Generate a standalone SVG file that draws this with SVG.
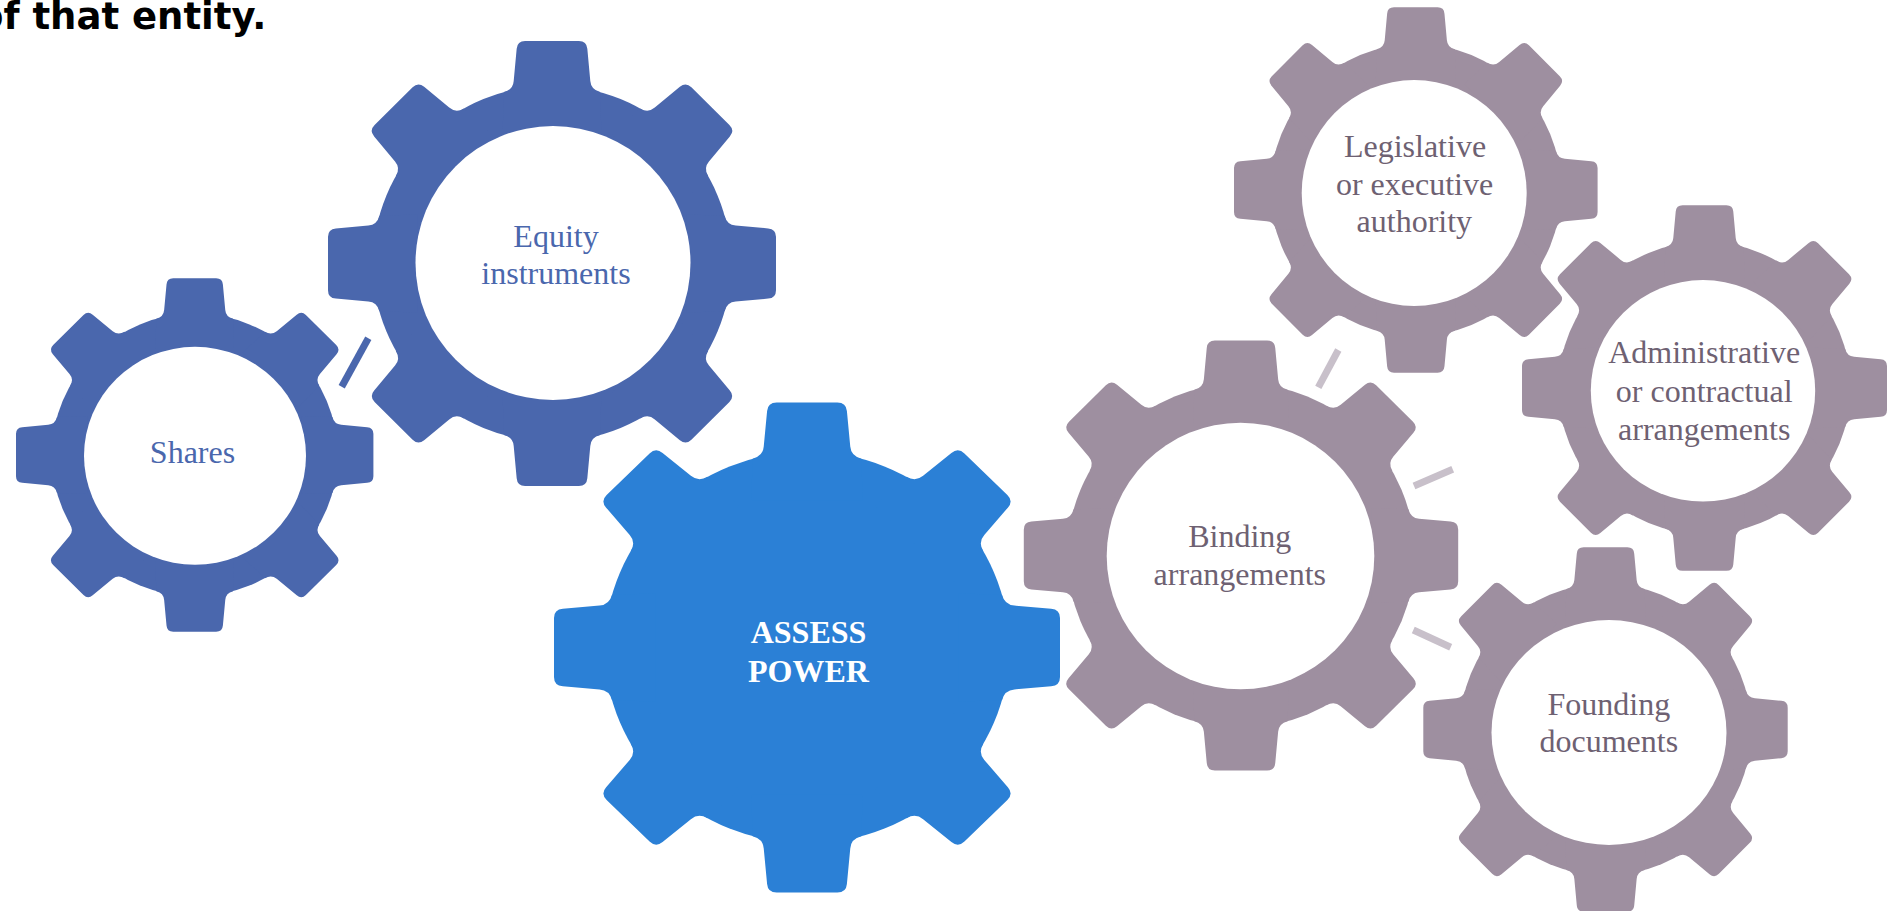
<svg xmlns="http://www.w3.org/2000/svg" xmlns:xlink="http://www.w3.org/1999/xlink" width="1887" height="911" viewBox="0 0 1887 911">
  <style>
    .title { font-family: "DejaVu Sans", "Liberation Sans", sans-serif; font-weight: bold; font-size: 37px; fill: #000000; }
    .lbl { font-family: "Liberation Serif", "Times New Roman", serif; font-size: 32px; text-anchor: middle; }
    .lbl-blue { fill: #4A67AD; }
    .lbl-gray { fill: #6E6172; }
    .lbl-main { fill: #FFFFFF; font-weight: bold; }
    .g-blue { fill: #4A67AD; }
    .g-main { fill: #2B80D6; }
    .g-gray { fill: #9E8FA0; }
    .hole { fill: #FFFFFF; }
    .conn-blue { stroke: #4A67AD; stroke-width: 7; fill: none; }
    .conn-gray { stroke: #C8C0CA; stroke-width: 7; fill: none; }
  </style>
  <defs>
    <path id="tooth" d="M -22,-60 L -21.5,-77.06 Q -17.4,-78.1 -17.1,-82 L -15.77,-96.5 Q -15.5,-100 -12,-100 L 12,-100 Q 15.5,-100 15.77,-96.5 L 17.1,-82 Q 17.4,-78.1 21.5,-77.06 L 22,-60 Z"/>
    <g id="gear">
      <circle cx="0" cy="0" r="80"/>
      <use xlink:href="#tooth" href="#tooth"/>
      <use xlink:href="#tooth" href="#tooth" transform="rotate(45)"/>
      <use xlink:href="#tooth" href="#tooth" transform="rotate(90)"/>
      <use xlink:href="#tooth" href="#tooth" transform="rotate(135)"/>
      <use xlink:href="#tooth" href="#tooth" transform="rotate(180)"/>
      <use xlink:href="#tooth" href="#tooth" transform="rotate(225)"/>
      <use xlink:href="#tooth" href="#tooth" transform="rotate(270)"/>
      <use xlink:href="#tooth" href="#tooth" transform="rotate(315)"/>
    </g>
  </defs>

  <rect x="0" y="0" width="1887" height="911" fill="#FFFFFF"/>

  <text class="title" x="-22" y="28.5">of that entity.</text>

  <g id="connectors">
    <line class="conn-blue" x1="368.3" y1="338.3" x2="341.7" y2="386.7"/>
    <line class="conn-gray" x1="1338.3" y1="350" x2="1318.3" y2="387.3"/>
    <line class="conn-gray" x1="1452.7" y1="469.3" x2="1414" y2="486"/>
    <line class="conn-gray" x1="1413.3" y1="630" x2="1450.7" y2="647.3"/>
  </g>

  <g id="shares">
    <use xlink:href="#gear" href="#gear" class="g-blue" transform="translate(194.7,455) scale(1.787,1.767)"/>
    <ellipse class="hole" cx="195" cy="455.8" rx="111" ry="109"/>
    <text class="lbl lbl-blue" x="192.5" y="463.3">Shares</text>
  </g>

  <g id="equity">
    <use xlink:href="#gear" href="#gear" class="g-blue" transform="translate(552,263.5) scale(2.24,2.225)"/>
    <ellipse class="hole" cx="553" cy="263" rx="137.5" ry="137"/>
    <text class="lbl lbl-blue" x="556" y="246.5">Equity</text>
    <text class="lbl lbl-blue" x="556" y="284">instruments</text>
  </g>

  <g id="assess">
    <use xlink:href="#gear" href="#gear" class="g-main" transform="translate(807,647.5) scale(2.53,2.45)"/>
    <text class="lbl lbl-main" x="808.5" y="643.3">ASSESS</text>
    <text class="lbl lbl-main" x="808.5" y="681.7">POWER</text>
  </g>

  <g id="binding">
    <use xlink:href="#gear" href="#gear" class="g-gray" transform="translate(1241,555.5) scale(2.172,2.15)"/>
    <ellipse class="hole" cx="1240.5" cy="556" rx="133.8" ry="133.3"/>
    <text class="lbl lbl-gray" x="1239.8" y="547.3">Binding</text>
    <text class="lbl lbl-gray" x="1239.8" y="585">arrangements</text>
  </g>

  <g id="legislative">
    <use xlink:href="#gear" href="#gear" class="g-gray" transform="translate(1415.8,190) scale(1.818,1.827)"/>
    <ellipse class="hole" cx="1414.2" cy="193" rx="112.5" ry="113"/>
    <text class="lbl lbl-gray" x="1415" y="156.7">Legislative</text>
    <text class="lbl lbl-gray" x="1414.5" y="195">or executive</text>
    <text class="lbl lbl-gray" x="1414.3" y="232.3">authority</text>
  </g>

  <g id="administrative">
    <use xlink:href="#gear" href="#gear" class="g-gray" transform="translate(1704.5,388) scale(1.825,1.828)"/>
    <ellipse class="hole" cx="1703" cy="390.8" rx="112.2" ry="110.8"/>
    <text class="lbl lbl-gray" x="1704.2" y="363.3">Administrative</text>
    <text class="lbl lbl-gray" x="1704.2" y="401.7">or contractual</text>
    <text class="lbl lbl-gray" x="1704.2" y="440">arrangements</text>
  </g>

  <g id="founding">
    <use xlink:href="#gear" href="#gear" class="g-gray" transform="translate(1605.5,729.5) scale(1.822,1.822)"/>
    <ellipse class="hole" cx="1609" cy="732.5" rx="117.5" ry="112.5"/>
    <text class="lbl lbl-gray" x="1608.8" y="715">Founding</text>
    <text class="lbl lbl-gray" x="1608.8" y="752.3">documents</text>
  </g>
</svg>
